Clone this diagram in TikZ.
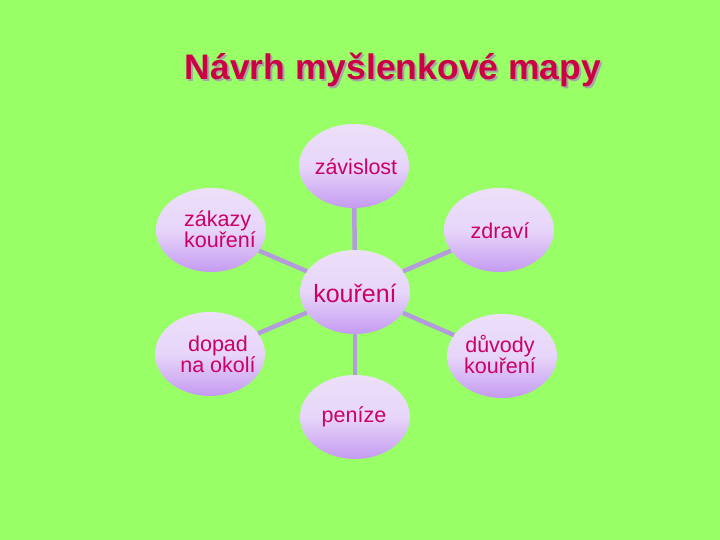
\documentclass[tikz,border=0pt]{standalone}
\usepackage{fontspec}
\setmainfont{Liberation Sans}
\usetikzlibrary{shapes.geometric}
\definecolor{bg}{HTML}{99FF66}
\definecolor{txt}{HTML}{CC0066}
\definecolor{ttl}{HTML}{CC0044}
\definecolor{lnk}{HTML}{B49CDC}
\definecolor{elA}{HTML}{EDE0FA}
\definecolor{elB}{HTML}{C59AF2}
\tikzset{
  bubble/.style={ellipse, minimum width=110pt, minimum height=84pt, inner sep=0pt,
    shade, shading angle=30, top color=elA, bottom color=elB, middle color=elA!85!elB},
  link/.style={draw=lnk, line width=4.5pt},
  lbl/.style={text=txt, font=\fontsize{21.5}{21}\selectfont, align=center}
}
\begin{document}
\begin{tikzpicture}[x=1pt,y=-1pt]
\fill[bg] (0,0) rectangle (720,540);
\useasboundingbox (0,0) rectangle (720,540);
\node[text=gray!70, font=\bfseries\fontsize{35.5}{36}\selectfont] at (395,72) {Návrh myšlenkové mapy};
\node (title) [text=ttl, font=\bfseries\fontsize{35.5}{36}\selectfont] at (393,70) {Návrh myšlenkové mapy};
\node[bubble] (c) at (355,292) {};
\node[bubble] (z) at (354,166) {};
\node[bubble] (zk) at (211,230) {};
\node[bubble] (zd) at (499,230) {};
\node[bubble] (d) at (210,354) {};
\node[bubble] (dv) at (502,356) {};
\node[bubble] (p) at (355,417) {};
\draw[link] (c) -- (z);
\draw[link] (c) -- (zk);
\draw[link] (c) -- (zd);
\draw[link] (c) -- (d);
\draw[link] (c) -- (dv);
\draw[link] (c) -- (p);
\node[lbl, font=\fontsize{25}{26}\selectfont] (tc) at (355,293) {kouření};
\node[lbl] (tz) at (356,167) {závislost};
\node[lbl, align=left] (tzk) at (220,229) {zákazy\\kouření};
\node[lbl] (tzd) at (500,231) {zdraví};
\node[lbl] (td) at (218,354) {dopad\\na okolí};
\node[lbl] (tdv) at (500,354) {důvody\\kouření};
\node[lbl] (tp) at (354,417) {peníze};
\end{tikzpicture}
\end{document}
